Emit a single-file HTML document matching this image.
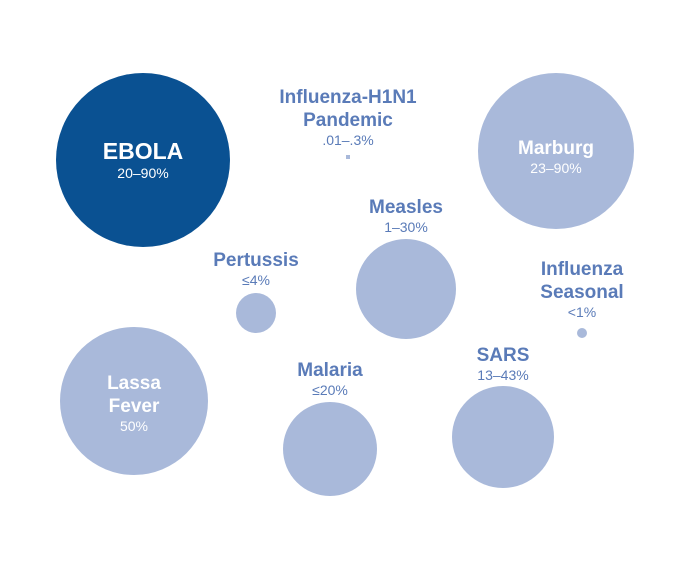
<!DOCTYPE html>
<html><head><meta charset="utf-8"><style>
html,body{margin:0;padding:0;background:#fff;}
svg{display:block;font-family:"Liberation Sans",sans-serif;}
</style></head><body>
<svg id="chart" width="698" height="573"></svg>
<script>
const diseases = ["EBOLA","Marburg","Measles","Pertussis","Influenza Seasonal","Lassa Fever","Malaria","SARS","Influenza-H1N1 Pandemic"];
const rates = ["20–90%","23–90%","1–30%","≤4%","<1%","50%","≤20%","13–43%",".01–.3%"];
const radii = [87,78,50,20,5,74,47,51,2];
const layout = [
 {cx:143,cy:160,lines:["EBOLA"],ty:159,inside:true,dark:true},
 {cx:556,cy:151,lines:["Marburg"],ty:154,inside:true},
 {cx:406,cy:289,lines:["Measles"],ty:213},
 {cx:256,cy:313,lines:["Pertussis"],ty:266},
 {cx:582,cy:333,lines:["Influenza","Seasonal"],ty:275},
 {cx:134,cy:401,lines:["Lassa","Fever"],ty:389,inside:true},
 {cx:330,cy:449,lines:["Malaria"],ty:376},
 {cx:503,cy:437,lines:["SARS"],ty:361},
 {cx:348,cy:157,lines:["Influenza-H1N1","Pandemic"],ty:103,square:true}
];
const svg=document.getElementById('chart');
const NS="http://www.w3.org/2000/svg";
diseases.forEach((d,i)=>{
 const L=layout[i];
 const g=document.createElementNS(NS,'g');
 
 
 let m;
 if(L.square){m=document.createElementNS(NS,'rect');m.setAttribute('x',L.cx-radii[i]);m.setAttribute('y',L.cy-radii[i]);m.setAttribute('width',radii[i]*2);m.setAttribute('height',radii[i]*2);}
 else{m=document.createElementNS(NS,'circle');m.setAttribute('cx',L.cx);m.setAttribute('cy',L.cy);m.setAttribute('r',radii[i]);}
 m.setAttribute('fill',L.dark?'#0a5192':'#a9b9da');
 
 
 g.appendChild(m);
 const col=L.inside?'#ffffff':'#5a7bb8';
 let y=L.ty;
 L.lines.forEach(line=>{
  const t=document.createElementNS(NS,'text');
  t.setAttribute('x',L.cx);t.setAttribute('y',y);t.setAttribute('text-anchor','middle');
  t.setAttribute('font-size',L.dark?23:19);t.setAttribute('font-weight','bold');t.setAttribute('fill',col);
  
  
  t.textContent=line;g.appendChild(t);y+=23;
 });
 const r=document.createElementNS(NS,'text');
 r.setAttribute('x',L.cx);r.setAttribute('y',y-4);r.setAttribute('text-anchor','middle');
 r.setAttribute('font-size',14);r.setAttribute('fill',L.inside?'#ffffff':'#5a7bb8');
 
 
 r.textContent=rates[i];g.appendChild(r);
 svg.appendChild(g);
});
</script>
</body></html>
